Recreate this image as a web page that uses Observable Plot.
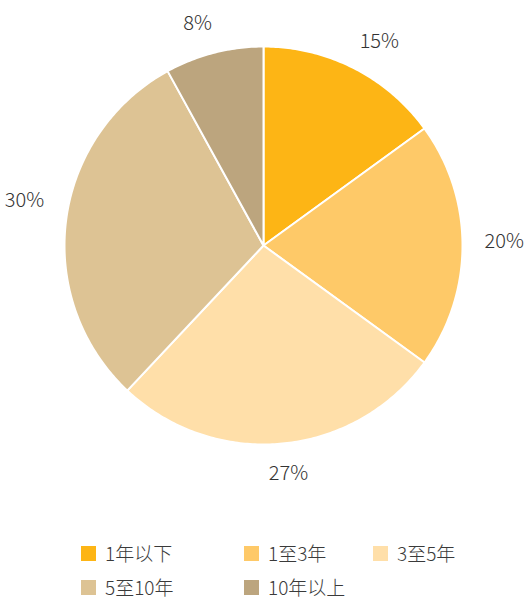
<!DOCTYPE html>
<html><head><meta charset="utf-8">
<script src="https://cdn.jsdelivr.net/npm/d3@7"></script>
<script src="https://cdn.jsdelivr.net/npm/@observablehq/plot@0.6"></script>
<style>
body{margin:0;background:#fff;font-family:"Noto Sans CJK SC","Noto Sans",sans-serif;}
#chart{position:relative;width:527px;height:600px;overflow:hidden;}
#legend{position:absolute;left:0;top:0;width:527px;height:600px;pointer-events:none;}
.item{position:absolute;display:flex;align-items:center;font-size:19px;line-height:22px;font-weight:300;color:#3a3a3a;white-space:nowrap;}
.sw{width:15px;height:15px;margin-right:9px;}
</style>
</head><body>
<div id="chart"><div id="legend"></div></div>
<script>
const categories = ["1年以下", "1至3年", "3至5年", "5至10年", "10年以上"];
const shares = [15, 20, 27, 30, 8];
const labels = ["15%", "20%", "27%", "30%", "8%"];
const colors = ["#FDB515", "#FEC968", "#FFDFA9", "#DDC394", "#BCA57E"];

const arcs = d3.pie().sort(null).value(d => d)(shares);
const slices = arcs.map((a, i) => {
  const n = Math.max(4, Math.ceil((a.endAngle - a.startAngle) * 80));
  const pts = [[0, 0]];
  for (let k = 0; k <= n; k++) {
    const t = a.startAngle + (a.endAngle - a.startAngle) * k / n;
    pts.push([Math.sin(t), -Math.cos(t)]);
  }
  pts.push([0, 0]);
  return {type: "Feature", properties: {category: categories[i]}, geometry: {type: "Polygon", coordinates: [pts]}};
});
const labelData = arcs.map((a, i) => {
  const m = (a.startAngle + a.endAngle) / 2;
  const s = Math.sin(m), c = Math.cos(m);
  return {
    x: 1.15 * s + 0.06 * Math.sign(s) * Math.min(1, Math.abs(s) * 3),
    y: -1.15 * c - (s < 0 && Math.abs(c) < 0.3 ? 0.08 : 0) + (s > 0 && Math.abs(c) < 0.3 ? -0.02 : 0),
    text: labels[i]
  };
});

const chart = Plot.plot({
  width: 527,
  height: 520,
  margin: 0,
  projection: {
    type: "identity",
    domain: {type: "MultiPoint", coordinates: [[-1, -1], [1, 1]]},
    insetLeft: 64, insetRight: 65, insetTop: 46, insetBottom: 76
  },
  color: {domain: categories, range: colors},
  style: {fontFamily: '"Noto Sans CJK SC","Noto Sans",sans-serif', background: "#fff"},
  marks: [
    Plot.geo(slices, {fill: d => d.properties.category, stroke: "#fff", strokeWidth: 2, strokeLinejoin: "round"}),
    Plot.text(labelData, {x: "x", y: "y", text: "text", fontSize: 20, fontWeight: 300, fill: "#333", textAnchor: "middle"})
  ]
});
document.getElementById("chart").prepend(chart);

const legendPos = [[81, 553], [244, 553], [373, 553], [81, 587], [244, 587]];
const legend = document.getElementById("legend");
categories.forEach((c, i) => {
  const el = document.createElement("div");
  el.className = "item";
  el.style.left = legendPos[i][0] + "px";
  el.style.top = (legendPos[i][1] - 11) + "px";
  el.style.height = "22px";
  const sw = document.createElement("div");
  sw.className = "sw";
  sw.style.background = colors[i];
  const tx = document.createElement("span");
  tx.textContent = c;
  el.append(sw, tx);
  legend.append(el);
});
</script>
</body></html>
